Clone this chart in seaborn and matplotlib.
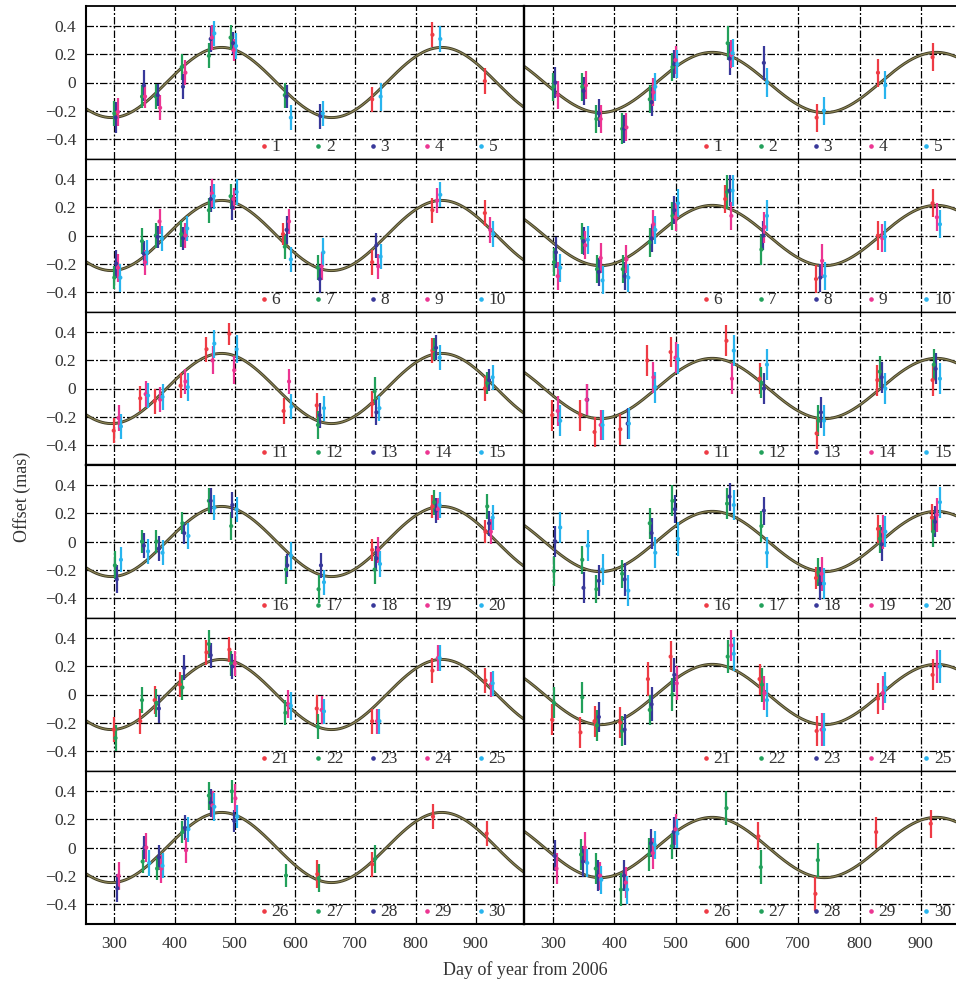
import numpy as np
import pandas as pd
import matplotlib
matplotlib.use("Agg")
import matplotlib.pyplot as plt
import seaborn as sns

# ---------------- data: (day, offset mas, half error) per series ----------------
L1 = {1: [(303, -0.22, 0.08), (728, -0.12, 0.09), (828, 0.34, 0.09), (915, 0.01, 0.09)],
      2: [(300, -0.22, 0.09), (346, -0.10, 0.08), (369, -0.10, 0.09), (412, 0.11, 0.09), (457, 0.19, 0.09), (493, 0.32, 0.09), (583, -0.09, 0.09)],
      3: [(302, -0.25, 0.11), (349, -0.02, 0.11), (372, -0.09, 0.08), (414, -0.03, 0.09), (460, 0.31, 0.09), (497, 0.28, 0.08), (586, -0.10, 0.08), (642, -0.24, 0.09)],
      4: [(306, -0.21, 0.10), (351, -0.10, 0.08), (376, -0.18, 0.09), (418, 0.07, 0.09), (462, 0.32, 0.09), (498, 0.23, 0.08)],
      5: [(466, 0.35, 0.09), (502, 0.26, 0.09), (593, -0.25, 0.09), (646, -0.22, 0.09), (742, -0.10, 0.10), (841, 0.31, 0.09)]}
R1 = {1: [(730, -0.25, 0.10), (830, 0.07, 0.10), (919, 0.18, 0.10)],
      2: [(301, -0.03, 0.10), (348, -0.03, 0.10), (371, -0.26, 0.10), (413, -0.33, 0.11), (458, -0.12, 0.10), (495, 0.11, 0.10), (585, 0.28, 0.12)],
      3: [(304, 0.00, 0.11), (350, -0.06, 0.10), (375, -0.22, 0.10), (416, -0.33, 0.10), (461, -0.14, 0.10), (498, 0.13, 0.10), (588, 0.17, 0.12), (644, 0.14, 0.12)],
      4: [(308, -0.09, 0.10), (354, -0.02, 0.10), (378, -0.26, 0.10), (420, -0.32, 0.10), (464, -0.07, 0.10), (500, 0.16, 0.10), (591, 0.20, 0.10)],
      5: [(467, -0.03, 0.10), (503, 0.13, 0.10), (593, 0.21, 0.10), (649, 0.00, 0.10), (742, -0.20, 0.10), (842, -0.02, 0.10)]}
L2 = {1: [(580, 0.01, 0.08), (728, -0.19, 0.09), (828, 0.18, 0.09), (915, 0.16, 0.09)],
      2: [(300, -0.30, 0.08), (346, -0.04, 0.09), (369, 0.00, 0.09), (411, 0.01, 0.09), (457, 0.18, 0.09), (493, 0.28, 0.09), (583, -0.08, 0.09), (638, -0.23, 0.09)],
      3: [(303, -0.20, 0.10), (349, -0.13, 0.09), (372, -0.01, 0.08), (414, -0.02, 0.08), (460, 0.26, 0.09), (496, 0.20, 0.09), (586, 0.04, 0.10), (641, -0.31, 0.10), (735, -0.07, 0.09)],
      4: [(306, -0.23, 0.10), (351, -0.19, 0.09), (375, 0.10, 0.09), (418, 0.00, 0.09), (462, 0.30, 0.10), (498, 0.26, 0.08), (590, 0.10, 0.09), (644, -0.22, 0.10), (738, -0.22, 0.09), (836, 0.25, 0.09), (924, 0.04, 0.09)],
      5: [(310, -0.30, 0.10), (354, -0.12, 0.09), (379, -0.02, 0.09), (421, 0.05, 0.09), (465, 0.28, 0.09), (503, 0.31, 0.09), (593, -0.17, 0.09), (647, -0.12, 0.10), (742, -0.15, 0.09), (841, 0.29, 0.09), (929, 0.01, 0.09)]}
R2 = {1: [(581, 0.26, 0.10), (729, -0.31, 0.10), (830, 0.00, 0.10), (919, 0.23, 0.10)],
      2: [(302, -0.19, 0.10), (348, -0.02, 0.11), (372, -0.24, 0.10), (414, -0.24, 0.10), (458, -0.05, 0.10), (495, 0.14, 0.10), (584, 0.31, 0.12), (640, -0.10, 0.11)],
      3: [(305, -0.12, 0.11), (350, -0.04, 0.10), (375, -0.26, 0.10), (417, -0.29, 0.10), (461, -0.02, 0.10), (498, 0.18, 0.10), (588, 0.32, 0.11), (643, 0.00, 0.10), (736, -0.30, 0.10)],
      4: [(308, -0.29, 0.10), (353, -0.07, 0.10), (378, -0.16, 0.11), (420, -0.17, 0.10), (464, 0.08, 0.10), (500, 0.13, 0.10), (591, 0.14, 0.10), (645, 0.06, 0.11), (739, -0.18, 0.12), (837, -0.02, 0.10), (926, 0.13, 0.10)],
      5: [(312, -0.23, 0.10), (357, -0.03, 0.10), (381, -0.32, 0.10), (423, -0.30, 0.10), (467, 0.04, 0.10), (504, 0.23, 0.10), (593, 0.32, 0.11), (649, 0.14, 0.11), (743, -0.29, 0.10), (841, -0.01, 0.11), (931, 0.08, 0.10)]}
L3 = {1: [(299, -0.30, 0.09), (343, -0.07, 0.09), (367, -0.09, 0.09), (410, 0.02, 0.09), (453, 0.28, 0.09), (491, 0.39, 0.08), (581, -0.16, 0.09), (636, -0.12, 0.09), (728, -0.11, 0.09), (828, 0.27, 0.09), (915, 0.00, 0.09)],
      2: [(638, -0.26, 0.10), (732, -0.02, 0.10), (831, 0.28, 0.08), (919, 0.04, 0.08)],
      3: [(641, -0.19, 0.09), (735, -0.17, 0.09), (834, 0.29, 0.09), (922, 0.06, 0.08)],
      4: [(307, -0.21, 0.09), (352, -0.04, 0.09), (376, -0.08, 0.09), (418, 0.05, 0.09), (463, 0.20, 0.10), (499, 0.13, 0.10), (590, 0.05, 0.09)],
      5: [(311, -0.27, 0.09), (356, -0.05, 0.09), (380, -0.06, 0.09), (422, 0.01, 0.10), (466, 0.32, 0.10), (503, 0.28, 0.10), (594, -0.13, 0.09), (648, -0.14, 0.09), (740, -0.14, 0.09), (840, 0.22, 0.09), (928, 0.08, 0.09)]}
R3 = {1: [(299, -0.19, 0.11), (345, -0.19, 0.11), (368, -0.31, 0.11), (410, -0.29, 0.11), (454, 0.20, 0.11), (492, 0.26, 0.11), (583, 0.34, 0.11), (637, 0.07, 0.11), (730, -0.32, 0.11), (829, 0.06, 0.11), (919, 0.06, 0.11)],
      2: [(640, 0.04, 0.11), (733, -0.23, 0.11), (833, 0.12, 0.11), (921, 0.17, 0.11)],
      3: [(356, -0.08, 0.11), (422, -0.25, 0.11), (644, 0.00, 0.11), (737, -0.17, 0.11), (836, 0.08, 0.11), (924, 0.14, 0.11)],
      4: [(308, -0.16, 0.11), (355, -0.08, 0.11), (378, -0.26, 0.11), (464, 0.08, 0.11), (500, 0.22, 0.11), (592, 0.07, 0.11)],
      5: [(312, -0.23, 0.11), (381, -0.26, 0.11), (424, -0.25, 0.11), (467, 0.01, 0.11), (504, 0.21, 0.11), (595, 0.27, 0.11), (649, 0.17, 0.11), (742, -0.23, 0.11), (842, 0.00, 0.11), (931, 0.07, 0.11)]}
L4 = {1: [(728, -0.06, 0.08), (828, 0.25, 0.08), (916, 0.07, 0.08)],
      2: [(301, -0.17, 0.10), (346, 0.00, 0.08), (370, 0.00, 0.08), (413, 0.13, 0.08), (457, 0.29, 0.09), (494, 0.11, 0.10), (585, -0.20, 0.10), (639, -0.34, 0.10), (732, -0.20, 0.10), (831, 0.28, 0.09), (919, 0.25, 0.09)],
      3: [(304, -0.27, 0.10), (349, -0.03, 0.09), (374, -0.05, 0.09), (416, 0.06, 0.08), (460, 0.29, 0.09), (496, 0.26, 0.09), (587, -0.17, 0.08), (643, -0.17, 0.09), (735, -0.12, 0.09), (834, 0.22, 0.09), (922, 0.13, 0.09)],
      4: [(738, -0.06, 0.09), (837, 0.23, 0.08), (925, 0.07, 0.09)],
      5: [(311, -0.13, 0.09), (356, -0.07, 0.09), (380, -0.08, 0.09), (423, 0.04, 0.09), (466, 0.24, 0.09), (503, 0.23, 0.09), (593, -0.10, 0.10), (648, -0.29, 0.09), (741, -0.16, 0.09), (840, 0.26, 0.09), (928, 0.17, 0.09)]}
R4 = {1: [(729, -0.26, 0.08), (830, 0.09, 0.10), (918, 0.17, 0.10)],
      2: [(302, -0.21, 0.11), (348, -0.13, 0.10), (371, -0.34, 0.10), (413, -0.23, 0.10), (458, 0.13, 0.11), (495, 0.29, 0.11), (584, 0.27, 0.11), (640, 0.11, 0.11), (733, -0.22, 0.10), (833, 0.02, 0.10), (920, 0.07, 0.11)],
      3: [(304, 0.00, 0.11), (350, -0.33, 0.11), (375, -0.28, 0.11), (417, -0.27, 0.12), (461, 0.06, 0.11), (499, 0.23, 0.10), (588, 0.32, 0.10), (644, 0.22, 0.10), (736, -0.30, 0.12), (836, -0.02, 0.12), (923, 0.14, 0.11)],
      4: [(738, -0.23, 0.12), (838, 0.07, 0.12), (926, 0.19, 0.12)],
      5: [(312, 0.10, 0.11), (357, -0.03, 0.11), (381, -0.20, 0.11), (423, -0.35, 0.11), (467, -0.08, 0.11), (504, 0.02, 0.12), (595, 0.26, 0.11), (649, -0.08, 0.11), (742, -0.30, 0.11), (842, 0.07, 0.11), (931, 0.28, 0.11)]}
L5 = {1: [(299, -0.25, 0.09), (343, -0.19, 0.09), (367, -0.04, 0.10), (409, 0.07, 0.09), (453, 0.30, 0.09), (491, 0.32, 0.09), (636, -0.10, 0.10), (728, -0.19, 0.09), (828, 0.17, 0.09), (916, 0.10, 0.09)],
      2: [(302, -0.31, 0.09), (346, -0.04, 0.09), (370, -0.06, 0.10), (413, 0.05, 0.09), (457, 0.36, 0.10), (494, 0.22, 0.09), (584, -0.13, 0.09), (638, -0.23, 0.09)],
      3: [(374, -0.10, 0.10), (416, 0.19, 0.09), (460, 0.28, 0.09), (496, 0.20, 0.09)],
      4: [(500, 0.22, 0.09), (589, -0.07, 0.10), (644, -0.11, 0.10), (736, -0.19, 0.09), (837, 0.26, 0.09), (925, 0.07, 0.09)],
      5: [(593, -0.08, 0.10), (648, -0.12, 0.09), (740, -0.19, 0.09), (840, 0.26, 0.09), (928, 0.08, 0.09)]}
R5 = {1: [(299, -0.18, 0.11), (345, -0.27, 0.11), (368, -0.19, 0.11), (410, -0.20, 0.11), (455, 0.11, 0.12), (492, 0.27, 0.11), (637, 0.11, 0.11), (730, -0.26, 0.11), (830, -0.03, 0.11), (919, 0.14, 0.11)],
      2: [(302, -0.06, 0.11), (348, -0.02, 0.11), (372, -0.22, 0.11), (413, -0.26, 0.11), (458, -0.11, 0.11), (495, 0.00, 0.12), (585, 0.27, 0.12), (641, 0.07, 0.12)],
      3: [(375, -0.16, 0.11), (417, -0.25, 0.11), (461, -0.07, 0.12), (498, 0.14, 0.12)],
      4: [(502, 0.08, 0.12), (591, 0.35, 0.11), (645, 0.01, 0.12), (738, -0.25, 0.12), (838, 0.01, 0.12), (927, 0.20, 0.12)],
      5: [(595, 0.29, 0.12), (649, -0.04, 0.12), (742, -0.25, 0.12), (842, 0.05, 0.11), (931, 0.20, 0.12)]}
L6 = {1: [(637, -0.19, 0.10), (728, -0.12, 0.09), (829, 0.22, 0.09), (918, 0.10, 0.09)],
      2: [(347, -0.10, 0.08), (371, -0.15, 0.08), (413, 0.11, 0.08), (457, 0.37, 0.10), (495, 0.40, 0.08), (585, -0.20, 0.08), (639, -0.22, 0.10), (733, -0.08, 0.10)],
      3: [(305, -0.29, 0.10), (350, 0.00, 0.08), (374, -0.07, 0.09), (417, 0.14, 0.09), (460, 0.32, 0.10), (499, 0.19, 0.08)],
      4: [(307, -0.20, 0.10), (353, 0.00, 0.10), (378, -0.15, 0.10), (419, -0.02, 0.09), (463, 0.30, 0.10), (501, 0.35, 0.10)],
      5: [(358, -0.11, 0.09), (380, -0.13, 0.09), (423, 0.13, 0.09), (466, 0.29, 0.10), (504, 0.22, 0.08)]}
R6 = {1: [(635, 0.08, 0.10), (728, -0.33, 0.12), (827, 0.11, 0.11), (916, 0.17, 0.10)],
      2: [(346, -0.05, 0.11), (370, -0.15, 0.11), (411, -0.30, 0.12), (457, -0.05, 0.12), (494, 0.01, 0.09), (583, 0.28, 0.12), (639, -0.14, 0.12), (732, -0.09, 0.12)],
      3: [(303, -0.06, 0.11), (349, -0.10, 0.11), (374, -0.20, 0.11), (416, -0.20, 0.11), (460, 0.03, 0.10), (497, 0.11, 0.11)],
      4: [(306, -0.15, 0.11), (352, 0.00, 0.11), (377, -0.20, 0.10), (419, -0.25, 0.11), (463, -0.04, 0.11), (500, 0.13, 0.11)],
      5: [(356, -0.11, 0.10), (379, -0.23, 0.10), (421, -0.30, 0.10), (466, 0.02, 0.10), (503, 0.10, 0.10)]}

# fitted annual sinusoid parameters (amplitude mas, day of peak, period days)
LEFT_FIT = (0.25, 478.0, 365.25)
RIGHT_FIT = (0.215, 560.0, 365.25)

X_TICKS = [300, 400, 500, 600, 700, 800, 900]
Y_TICKS = [-0.4, -0.2, 0.0, 0.2, 0.4]
Y_TICKLABELS = ["\u22120.4", "\u22120.2", "0", "0.2", "0.4"]
LEGEND_START = [1, 6, 11, 16, 21, 26]
SERIES_COLORS = ["#ee3b45", "#22a05a", "#38389a", "#ec3592", "#28b4ee"]

# ---------------- drawing ----------------
sns.set_style("white")
plt.rcParams["font.family"] = ["Liberation Serif", "DejaVu Serif"]
plt.rcParams["axes.unicode_minus"] = True

W, H = 956, 985
fig = plt.figure(figsize=(W / 100, H / 100), dpi=100)
XLIM = (253, 980)
YLIM = (-0.545, 0.545)
GRID_LS = (0, (6, 1.6, 1.6, 1.6))


def make_ax(col, row):
    if col == 0:
        x0, w = 86, 438
    else:
        x0, w = 524, 446
    top = 6 + 153 * row
    return fig.add_axes([x0 / W, 1 - (top + 153) / H, w / W, 153 / H])


rows = [(L1, R1), (L2, R2), (L3, R3), (L4, R4), (L5, R5), (L6, R6)]
curve_t = np.linspace(XLIM[0], XLIM[1], 600)

for r, pair in enumerate(rows):
    for c, pdata in enumerate(pair):
        ax = make_ax(c, r)
        amp, peak, period = LEFT_FIT if c == 0 else RIGHT_FIT
        curve = pd.DataFrame({"t": curve_t,
                              "y": amp * np.cos(2 * np.pi * (curve_t - peak) / period)})
        ax.grid(True, color="black", linestyle=GRID_LS, linewidth=0.9)
        ax.set_axisbelow(True)
        sns.lineplot(data=curve, x="t", y="y", color="#403c26", linewidth=2.1, ax=ax, zorder=2)
        sns.lineplot(data=curve, x="t", y="y", color="#8e8756", linewidth=0.8, ax=ax, zorder=2.1)

        recs = []
        for s, pts in pdata.items():
            for (x, y, e) in pts:
                recs.append({"x": x, "y": y, "e": e, "s": s})
        df = pd.DataFrame(recs)
        for s in range(1, 6):
            sub = df[df.s == s]
            ax.vlines(sub.x, sub.y - sub.e, sub.y + sub.e,
                      colors=SERIES_COLORS[s - 1], linewidth=1.6, zorder=3)
        sns.scatterplot(data=df, x="x", y="y", hue="s", hue_order=[1, 2, 3, 4, 5],
                        palette=dict(zip(range(1, 6), SERIES_COLORS)), s=9,
                        edgecolor="none", legend=False, ax=ax, zorder=4)

        # in-panel key
        n0 = LEGEND_START[r]
        for i in range(5):
            fx = 0.407 + i * 0.1238
            ax.plot([fx], [0.082], "o", transform=ax.transAxes, ms=2.3,
                    color=SERIES_COLORS[i], zorder=5)
            ax.text(fx + 0.017, 0.078, str(n0 + i), transform=ax.transAxes,
                    va="center", ha="left", fontsize=12.5, color="#333333")

        ax.set_xlim(*XLIM)
        ax.set_ylim(*YLIM)
        ax.set_xticks(X_TICKS)
        ax.set_yticks(Y_TICKS)
        ax.set_xlabel("")
        ax.set_ylabel("")
        ax.tick_params(direction="in", length=3, width=0.8, colors="black",
                       labelsize=12.5, labelcolor="#333333")
        ax.tick_params(axis="y", pad=7)
        ax.tick_params(axis="x", pad=9)
        if c == 0:
            ax.set_yticklabels(Y_TICKLABELS)
        else:
            ax.set_yticklabels([])
        if r == 5:
            ax.set_xticklabels([str(v) for v in X_TICKS])
        else:
            ax.set_xticklabels([])

        for side in ["left", "right", "top", "bottom"]:
            ax.spines[side].set_visible(True)
            ax.spines[side].set_color("black")
            ax.spines[side].set_linewidth(1.0)
        if c == 0:
            ax.spines["right"].set_visible(False)
            ax.spines["left"].set_linewidth(1.5)
        else:
            ax.spines["left"].set_linewidth(1.7)
        if r == 2:
            ax.spines["bottom"].set_linewidth(1.6)
        if r == 3:
            ax.spines["top"].set_linewidth(1.6)
        if r == 5:
            ax.spines["bottom"].set_linewidth(1.5)
        if r == 0:
            ax.spines["top"].set_linewidth(1.3)

fig.text(22 / W, 1 - 497 / H, "Offset (mas)", rotation=90, ha="center", va="center",
         fontsize=13, color="#333333")
fig.text(525 / W, 1 - 970 / H, "Day of year from 2006", ha="center", va="center",
         fontsize=13, color="#333333")

fig.savefig("out.png", dpi=100)
